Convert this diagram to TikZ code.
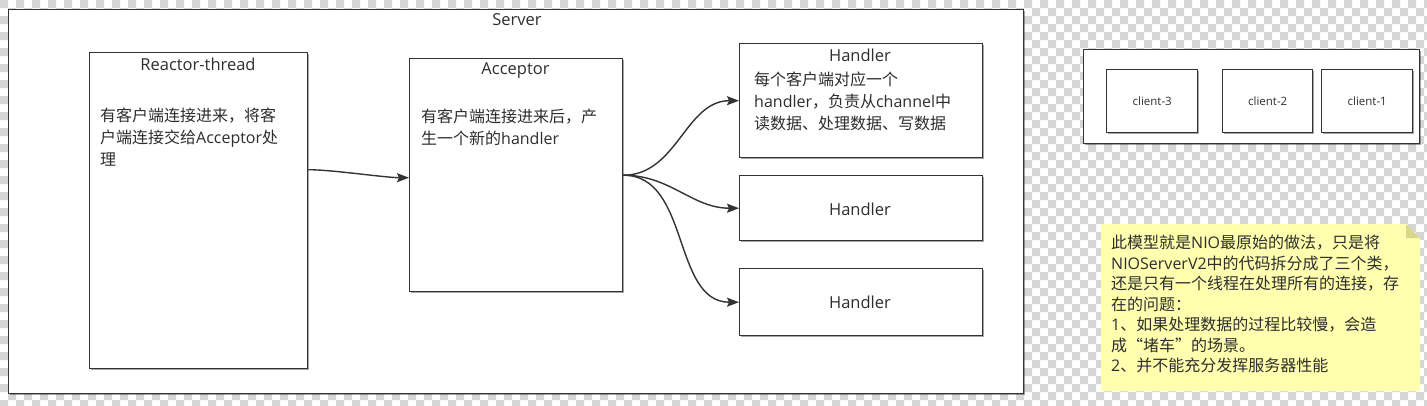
\documentclass[tikz,border=0pt]{standalone}
\usepackage{fontspec}
\setmainfont{Noto Sans CJK SC}
\newfontfamily\la{Open Sans}
\newcommand\lt[1]{{\la #1}}
\usetikzlibrary{arrows.meta,shadows}
\definecolor{ln}{HTML}{333333}
\definecolor{tx}{HTML}{2E2E2E}
\definecolor{chk}{HTML}{D6D6D6}
\definecolor{notey}{HTML}{FFFFAF}
\definecolor{fold}{HTML}{D8D88C}
\begin{document}
\begin{tikzpicture}[x=1pt,y=-1pt,
 box/.style={draw=ln, line width=1.4pt, fill=white, inner sep=0pt, anchor=north west,
   drop shadow={shadow xshift=1.6pt, shadow yshift=-1.6pt, opacity=0.35, fill=black}},
 ttl/.style={font=\la\fontsize{16.5}{18}\selectfont, text=tx, anchor=center, inner sep=0pt},
 small/.style={font=\la\fontsize{11.5}{14}\selectfont, text=tx, anchor=center, inner sep=0pt},
 body/.style={font=\fontsize{16}{22}\selectfont, text=tx, align=left, anchor=north west, inner sep=0pt},
 notetext/.style={font=\fontsize{16}{20.5}\selectfont, text=tx, align=left, anchor=north west, inner sep=0pt},
 arr/.style={draw=ln, line width=1.4pt, -{Stealth[length=12pt,width=9pt,inset=2pt]}}]
\useasboundingbox (0,0) rectangle (1427,405);
\fill[white] (0,0) rectangle (1427,405);
\foreach \j in {0,...,50}{
  \pgfmathtruncatemacro\off{mod(\j,2)*8}
  \fill[chk] \foreach \i in {0,...,89}{ (\i*16+\off,\j*8) rectangle ++(8,8) };
}
% server
\node[box, minimum width=1015pt, minimum height=384pt] (server) at (8,9) {};
\node[ttl] (servert) at (517,20) {Server};
% reactor
\node[box, minimum width=218pt, minimum height=316pt] (reactor) at (89,52) {};
\node[ttl] (reactort) at (198,64) {Reactor-thread};
\node[body] (reactorb) at (100,108) {有客户端连接进来，将客\\户端连接交给\lt{Acceptor}处\\理};
% acceptor
\node[box, minimum width=213pt, minimum height=233pt] (acceptor) at (409,58) {};
\node[ttl] (acceptort) at (515.5,71) {Acceptor};
\node[body] (acceptorb) at (421,109) {有客户端连接进来后，产\\生一个新的\lt{handler}};
% handlers
\node[box, minimum width=243pt, minimum height=114pt] (h1) at (739,43) {};
\node[ttl] (h1t) at (860,55) {Handler};
\node[body] (h1b) at (754,72) {每个客户端对应一个\\\lt{handler}，负责从\lt{channel}中\\读数据、处理数据、写数据};
\node[box, minimum width=243pt, minimum height=65pt] (h2) at (739,175) {};
\node[ttl] (h2t) at (860,209) {Handler};
\node[box, minimum width=243pt, minimum height=67pt] (h3) at (739,268) {};
\node[ttl] (h3t) at (860,302) {Handler};
% arrows
\draw[arr] ([yshift=41pt]reactor.east) to[out=0,in=180,looseness=0.6] ([yshift=-2.5pt]acceptor.west);
\draw[arr] (acceptor.east) to[out=0,in=180] (h1.west);
\draw[arr] (acceptor.east) to[out=0,in=180] (h2.west);
\draw[arr] (acceptor.east) to[out=0,in=180] (h3.west);
% clients
\node[box, minimum width=336pt, minimum height=94pt] (clients) at (1083,49) {};
\node[box, minimum width=91pt, minimum height=63pt] (c3) at (1106,69) {};
\node[small] (c3t) at (c3.center) {client-3};
\node[box, minimum width=90pt, minimum height=63pt] (c2) at (1222,69) {};
\node[small] (c2t) at (c2.center) {client-2};
\node[box, minimum width=91pt, minimum height=63pt] (c1) at (1321,69) {};
\node[small] (c1t) at (c1.center) {client-1};
% note
\fill[notey] (1101,224) -- (1406,224) -- (1420,238) -- (1420,391) -- (1101,391) -- cycle;
\fill[fold] (1406,224) -- (1406,238) -- (1420,238) -- cycle;
\node[notetext] (note) at (1111,235) {此模型就是\lt{NIO}最原始的做法，只是将\\\lt{NIOServerV2}中的代码拆分成了三个类，\\还是只有一个线程在处理所有的连接，存\\在的问题：\\\lt{1}、如果处理数据的过程比较慢，会造\\成“堵车”的场景。\\\lt{2}、并不能充分发挥服务器性能};
\end{tikzpicture}
\end{document}
